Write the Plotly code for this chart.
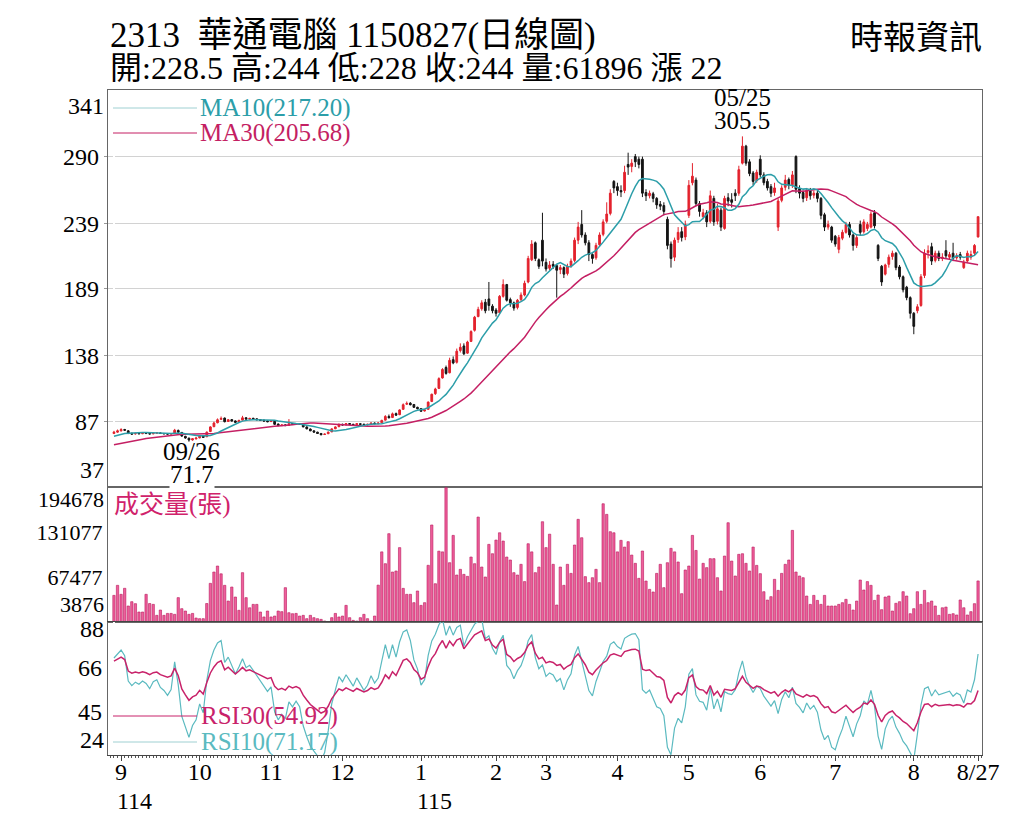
import pandas as pd
import plotly.graph_objects as go
from plotly.subplots import make_subplots

# closes before the first visible day, only used to warm up the MA / RSI lines
earlier_closes = [62, 61, 63, 62, 64, 63, 62, 65, 64, 66, 65, 67, 66, 68, 67,
                  70, 69, 72, 71, 73, 72, 75, 74, 76, 75, 77, 76, 78, 77]

opens = [
    78, 79, 80, 81, 80, 78.2, 77.6, 78.2, 77.8, 78.3,
    78, 77.7, 78.2, 78.4, 78, 77.8, 77.5, 78, 80.3, 78.8,
    75.8, 74.4, 73, 73.8, 74.6, 76, 75.5, 79.5, 83.2, 86.2,
    88.8, 89.8, 87.2, 88.6, 87.6, 86.8, 88.2, 90, 89, 89.6,
    89.2, 88.6, 88.2, 87.6, 87.1, 87.3, 85.2, 84, 84.6, 84.2,
    85.6, 85, 85.6, 84.8, 83, 81.4, 80, 79, 78, 77.2,
    77.8, 79.2, 81.6, 83.2, 85, 84.6, 85.6, 85, 84.6, 85.4,
    85.1, 84.6, 85, 86, 85.4, 86.2, 88.2, 91, 90.2, 93.2,
    92.4, 96.5, 100.4, 101.2, 100.2, 98, 97, 95.2, 96.5, 102.5,
    108.5, 112.5, 120.5, 128.5, 124.5, 134.5, 132.5, 141.5, 145, 139.5,
    148.5, 157, 167.5, 173.5, 178.5, 181, 175.5, 172.5, 170.5, 183,
    192, 180.5, 178, 174.5, 180.5, 184, 194, 211, 224, 211,
    226, 209, 204.5, 207.5, 206.5, 203.5, 205, 200.5, 206.5, 210.5,
    226, 238, 230, 224, 215, 212.5, 222.5, 230.5, 240.5, 246.5,
    271, 267, 264, 264, 284, 282.5, 290, 288, 288, 262.5,
    260, 261.5, 258, 253.5, 252.5, 242, 223, 213, 226.5, 232.5,
    228.5, 245, 270, 272, 254, 244, 247, 240.5, 258, 240.5,
    249, 235, 258.5, 257, 262, 262, 285, 298, 286, 277.5,
    271.5, 288, 276, 271, 267, 262.5, 236, 256.5, 266.5, 272.5,
    268.5, 290, 265.5, 262.5, 258.5, 264, 260.5, 262, 258, 245.5,
    236, 236, 229, 219, 227.5, 232, 238, 230, 222, 238,
    232.5, 235, 236, 247, 222, 206, 200, 207.5, 213.5, 216,
    205.5, 198, 190, 182, 170, 172, 176, 199, 216.5, 221,
    210.5, 216, 212, 218, 213, 216, 212.5, 215, 205, 210,
    213, 216, 228.5,
]

highs = [
    80, 81, 82, 81.5, 80.5, 78.5, 78.6, 78.6, 78.8, 78.6,
    78.4, 78.7, 79, 78.8, 78.3, 78.2, 78.3, 81.5, 81, 79,
    76.2, 74.8, 74.5, 75, 76.5, 76.4, 79.5, 83.5, 87, 89.5,
    91, 90.2, 89, 89, 88, 88.5, 91.5, 90.5, 90, 90,
    89.5, 89, 88.6, 88, 88, 87.6, 85.6, 85, 85, 89,
    86, 86, 86, 85, 83.4, 81.8, 80.4, 79.3, 78.3, 78,
    79.5, 82, 83.5, 85.6, 85.5, 86, 86, 85.4, 86, 85.8,
    85.4, 85.5, 86.4, 86.4, 86.5, 88.5, 92, 92.5, 94, 94,
    96.5, 101, 102.5, 102, 100.5, 98.5, 97.5, 96.5, 102.5, 108.5,
    113, 121, 128, 130, 136, 137, 143, 147, 147, 149,
    157, 168, 175, 180, 181, 194, 177, 174, 184, 196,
    192.5, 182, 179, 181, 186, 195, 214, 226, 225, 212,
    247, 212, 210, 210, 207, 207, 206, 208, 212, 228,
    240, 249, 232, 226, 216, 224, 232, 242, 255, 265,
    272, 270, 268, 283, 293, 288, 292, 290, 290, 265,
    264, 263, 259, 256, 255, 244, 225, 228, 236, 236,
    241, 272, 285, 274, 256, 250, 249, 264, 260, 254,
    251, 260, 262, 262, 265, 283, 305.5, 299, 288, 279,
    280, 291, 278, 273, 269, 270, 258, 268, 276, 274,
    279, 291, 268, 264, 266, 266, 264, 264, 259, 247,
    241, 237, 230, 230, 234, 240, 240, 231, 230, 241,
    242, 240, 248, 249, 223, 207, 208, 215, 218, 217,
    207, 199, 191, 183, 171, 177, 200, 219, 222, 224,
    218, 218, 216, 226, 217, 224, 216, 217, 211, 218,
    218, 223, 244,
]

lows = [
    77.5, 78.5, 79.5, 80, 77.5, 77, 77.2, 77.3, 77.5, 77.5,
    77.2, 77.4, 77.9, 77.7, 77.3, 77.1, 77.2, 77.8, 78.6, 75.5,
    74, 71.7, 72.5, 73.5, 74.3, 74.6, 75.2, 79, 82.8, 85.8,
    88.3, 86.5, 86.8, 87.2, 86.2, 86.4, 88, 88.5, 88.6, 88.6,
    88.2, 87.6, 87.2, 86.6, 86.8, 84.6, 83.6, 83.7, 83.7, 83.9,
    84.6, 84.7, 84.7, 82.8, 81.2, 79.8, 78.7, 77.8, 76.6, 76.8,
    77.5, 79, 81.3, 82.8, 84.1, 84.2, 84.7, 84.2, 84.4, 84.7,
    84.1, 84.2, 84.8, 85.2, 85.2, 86, 88, 89.5, 89.8, 91.5,
    92, 96, 99.8, 99.5, 97.5, 96.4, 94.5, 94.8, 96.2, 102,
    107.5, 112, 120, 123, 124, 131, 131.5, 140, 138, 139,
    148, 156, 167, 172, 170, 172, 170, 167.5, 170, 182,
    179, 175, 172, 173, 179, 183, 193, 210, 210, 204,
    206, 202, 203, 204, 182, 200, 197, 199, 205, 209,
    223, 228, 222, 210, 208, 211, 221, 229, 239, 245,
    262, 260, 259, 262, 276, 278, 282, 281, 259, 256,
    258, 255, 250, 249, 245, 219, 205, 210, 224, 225,
    226, 243, 268, 252, 244, 242, 236, 239, 237, 238,
    233, 234, 252, 251, 256, 260, 284, 283, 275, 268,
    270, 274, 268, 264, 259, 260, 233, 255, 264, 265,
    266, 262, 258, 255, 256, 257, 258, 255, 242, 233,
    234, 224, 221, 216, 226, 231, 228, 218, 220, 230,
    231, 233, 235, 235, 210, 191, 199, 205, 211, 203,
    196, 186, 180, 166, 154, 170, 175, 197, 212, 207,
    209, 210, 210, 212, 211, 210, 211, 211, 204, 209,
    211, 214, 228,
]

closes = [
    79, 80, 81, 80.5, 78, 77.5, 78, 77.8, 78.2, 78,
    77.6, 78.3, 78.5, 78, 77.8, 77.5, 77.9, 80.5, 79, 76,
    74.5, 73, 74, 74.5, 76, 75, 79, 83, 86, 88.5,
    89.5, 87, 88.5, 87.5, 86.5, 88, 90, 89, 89.5, 89,
    88.5, 88, 87.5, 87, 87.5, 85, 84, 84.5, 84, 85.5,
    85, 85.5, 85, 83, 81.5, 80, 79, 78, 77, 77.5,
    79, 81.5, 83, 85, 84.5, 85.5, 85, 84.5, 85.5, 85,
    84.5, 85, 86, 85.5, 86, 88, 91, 90, 93, 92,
    96, 100, 101, 100, 98, 97, 95, 96, 102, 108,
    112, 120, 127, 124, 134, 132, 141, 144, 139, 148,
    156, 167, 173, 178, 172, 176, 172, 170, 183, 192,
    180, 178, 174, 180, 184, 193, 212, 223, 212, 206,
    210, 204, 207, 206, 203, 205, 200, 206, 210, 226,
    236, 230, 224, 215, 212, 222, 230, 240, 246, 262,
    266, 264, 263, 278, 282, 285, 286, 284, 262, 260,
    262, 258, 253, 252, 248, 222, 212, 226, 232, 228,
    238, 268, 275, 254, 248, 247, 240, 260, 240, 250,
    236, 258, 256, 255, 260, 280, 298, 285, 277, 271,
    278, 276, 270, 266, 262, 266, 256, 266, 272, 268,
    276, 265, 262, 258, 264, 260, 262, 258, 245, 236,
    238, 226, 223, 228, 232, 238, 230, 222, 228, 232,
    240, 238, 246, 237, 212, 194, 207, 213, 216, 205,
    198, 188, 182, 170, 160, 175, 198, 216, 218, 210,
    216, 212, 213, 214, 215, 212, 214, 213, 209, 216,
    215, 222, 244,
]

volumes = [
    41500, 55700, 43000, 51500, 26500, 32600, 29800, 18000, 18000, 43000,
    30000, 28800, 13300, 20800, 13300, 16000, 16000, 14700, 38300, 22700,
    19400, 14700, 16000, 9500, 8600, 8600, 30000, 58500, 74500, 83000,
    72000, 55700, 33500, 53300, 39200, 20400, 73600, 38300, 24000, 28800,
    28800, 18000, 11000, 19400, 11000, 12300, 19400, 18500, 52400, 17000,
    15600, 16000, 12300, 13300, 8600, 13300, 10000, 8600, 7600, 5300,
    4300, 10000, 16000, 11000, 12300, 27400, 10000, 6200, 5300, 10000,
    14700, 8600, 5300, 12300, 56000, 103000, 86300, 128700, 74500, 76000,
    109000, 51400, 43000, 43000, 31200, 47700, 27400, 31200, 84000, 141000,
    58000, 104000, 103000, 193700, 87700, 126300, 70300, 78300, 71200, 68400,
    95700, 86300, 152200, 81600, 67500, 113600, 100400, 119700, 130000, 118300,
    95700, 91500, 73600, 70300, 85400, 61000, 114500, 103000, 73600, 81600,
    145600, 109000, 128000, 85400, 27900, 81600, 55700, 85400, 72600, 112700,
    149000, 123000, 68000, 59500, 66500, 78300, 59500, 171000, 156000, 131500,
    130000, 103000, 119300, 109800, 117400, 98500, 86800, 65600, 104200, 61800,
    50000, 46300, 72600, 85400, 52400, 87700, 108000, 103000, 88700, 43900,
    77400, 83000, 126300, 105000, 64600, 86800, 80700, 93400, 93400, 66500,
    47700, 97100, 144200, 90000, 68900, 99500, 100400, 86800, 76000, 109800,
    83900, 72200, 46700, 34900, 39700, 64200, 48600, 72600, 85400, 91500,
    133400, 74500, 68900, 66500, 40600, 28800, 41500, 34400, 28800, 41500,
    26500, 26500, 26500, 28800, 31200, 35900, 28800, 20800, 33500, 63200,
    49100, 61000, 55700, 34400, 42000, 21300, 39200, 40600, 19400, 30300,
    32600, 46700, 40600, 15600, 22700, 46700, 28800, 48600, 31200, 33500,
    26500, 13300, 24000, 25000, 14700, 15600, 13800, 35000, 24000, 13800,
    18500, 29800, 61896,
]

# trading days per month: end of Aug, Sep ... Jul, Aug (to 8/27)
month_days = [2, 22, 20, 20, 22, 21, 14, 20, 20, 20, 21, 22, 19]
month_labels = ["9", "10", "11", "12", "1", "2", "3", "4", "5", "6", "7", "8", "8/27"]
year_labels = ["114", "115"]

price_ticks = [37, 87, 138, 189, 239, 290, 341]
volume_ticks = [3876, 67477, 131077, 194678]
rsi_ticks = [24, 45, 66, 88]

FONT = "Liberation Serif, Noto Sans CJK TC, serif"
UP = "#e3222d"
DOWN = "#141414"
MA10_COLOR = "#2c9ea9"
MA30_COLOR = "#c41f63"
RSI10_COLOR = "#5bbac0"
RSI30_COLOR = "#c8226a"
VOL_COLOR = "#ef5f9c"
VOL_EDGE = "#b8185b"
AXIS = "#666666"

# the page body keeps an 8px margin, so the figure is drawn 8px smaller
W, H = 1016, 827


def rsi(series, n):
    """ wilder style rsi, normalised weights so the warm-up has no seed bias """
    diff = series.diff()
    gain = diff.clip(lower=0).ewm(alpha=1 / n, adjust=True).mean()
    loss = (-diff.clip(upper=0)).ewm(alpha=1 / n, adjust=True).mean()
    return 100 * gain / (gain + loss)


def px_x(p):
    """ screen column -> paper x """
    return (p - 108) / 874


def px_y(p):
    """ screen row -> paper y """
    return (755 - p) / 665


def main():
    n = len(closes)
    x = list(range(n))
    full = pd.Series(earlier_closes + closes, dtype=float)
    skip = len(earlier_closes)
    ma10 = full.rolling(10).mean().iloc[skip:].tolist()
    ma30 = full.rolling(30).mean().iloc[skip:].tolist()
    rsi10 = rsi(full, 10).iloc[skip:].tolist()
    rsi30 = rsi(full, 30).iloc[skip:].tolist()

    starts = []
    k = 0
    for d in month_days:
        starts.append(k)
        k += d
    tick_pos = starts[1:] + [n - 1]

    fig = make_subplots(rows=3, cols=1, shared_xaxes=True, vertical_spacing=0)

    fig.add_trace(go.Candlestick(
        x=x, open=opens, high=highs, low=lows, close=closes,
        increasing=dict(line=dict(color=UP, width=1), fillcolor=UP),
        decreasing=dict(line=dict(color=DOWN, width=1), fillcolor=DOWN),
        whiskerwidth=0, hoverinfo="skip"), row=1, col=1)
    fig.add_trace(go.Scatter(x=x, y=ma30, mode="lines",
                             line=dict(color=MA30_COLOR, width=1.5)), row=1, col=1)
    fig.add_trace(go.Scatter(x=x, y=ma10, mode="lines",
                             line=dict(color=MA10_COLOR, width=1.5)), row=1, col=1)

    fig.add_trace(go.Bar(x=x, y=volumes, marker=dict(color=VOL_COLOR,
                         line=dict(color=VOL_EDGE, width=0.6))), row=2, col=1)

    fig.add_trace(go.Scatter(x=x, y=rsi10, mode="lines",
                             line=dict(color=RSI10_COLOR, width=1.2)), row=3, col=1)
    fig.add_trace(go.Scatter(x=x, y=rsi30, mode="lines",
                             line=dict(color=RSI30_COLOR, width=1.5)), row=3, col=1)

    xr = [-1.67, n - 1 + 1.1]
    for r in (1, 2):
        fig.update_xaxes(range=xr, showticklabels=False, ticks="", showgrid=False,
                         showline=True, mirror=True, linecolor=AXIS, linewidth=1.2,
                         rangeslider_visible=False, row=r, col=1)
    fig.update_xaxes(range=xr, tickmode="array", tickvals=tick_pos, ticktext=month_labels,
                     ticks="outside", ticklen=5, tickcolor="#444", showgrid=False,
                     showline=True, mirror=True, linecolor="#444", linewidth=1.2,
                     ticklabelstandoff=-10, automargin=False,
                     tickfont=dict(size=24, color="black", family=FONT),
                     minor=dict(tickmode="linear", tick0=0, dtick=1, ticks="outside",
                                ticklen=2, tickcolor="#555", showgrid=False),
                     rangeslider_visible=False, row=3, col=1)

    # edge values are drawn as annotations so they sit inside the frame
    fig.update_yaxes(domain=[px_y(487), 1], range=[price_ticks[0], price_ticks[-1]],
                     tickvals=price_ticks[1:-1], showgrid=True, gridcolor="#d2d2d2",
                     ticks="outside", ticklen=3, tickcolor="#999", automargin=False,
                     showline=True, mirror=True, linecolor=AXIS, linewidth=1.2,
                     zeroline=False, tickfont=dict(size=24, family=FONT, color="black"),
                     row=1, col=1)
    fig.update_yaxes(domain=[px_y(622), px_y(487)], range=[volume_ticks[0], volume_ticks[-1]],
                     tickvals=volume_ticks[1:-1], ticktext=[str(v) for v in volume_ticks[1:-1]],
                     showgrid=False, ticks="", automargin=False,
                     showline=True, mirror=True, linecolor=AXIS, linewidth=1.2,
                     zeroline=False, tickfont=dict(size=22, family=FONT, color="black"),
                     row=2, col=1)
    fig.update_yaxes(domain=[0, px_y(622)], range=[rsi_ticks[0], rsi_ticks[-1]],
                     tickvals=rsi_ticks[1:-1], showgrid=False, ticks="", automargin=False,
                     showline=True, mirror=True, linecolor=AXIS, linewidth=1.2,
                     zeroline=False, tickfont=dict(size=24, family=FONT, color="black"),
                     row=3, col=1)

    ann = []
    edges = [("y", price_ticks[-1], "top", -1, 24), ("y", price_ticks[0], "bottom", 2, 24),
             ("y2", volume_ticks[-1], "top", 2, 22), ("y2", volume_ticks[0], "bottom", 3, 22),
             ("y3", rsi_ticks[-1], "top", 8, 24), ("y3", rsi_ticks[0], "bottom", 0, 24)]
    for ref, val, anchor, shift, size in edges:
        ann.append(dict(xref="paper", x=0, xanchor="right", xshift=-2, yref=ref, y=val,
                        yanchor=anchor, yshift=shift, text=str(val), showarrow=False,
                        font=dict(size=size, family=FONT, color="black")))

    # title block
    ann.append(dict(xref="paper", yref="paper", x=0, y=px_y(35), xanchor="left", yanchor="middle",
                    text="2313  華通電腦 1150827(日線圖)", showarrow=False,
                    font=dict(size=35, family=FONT, color="black")))
    ann.append(dict(xref="paper", yref="paper", x=0, y=px_y(68), xanchor="left", yanchor="middle",
                    text="開:228.5 高:244 低:228 收:244 量:61896 漲 22", showarrow=False,
                    font=dict(size=32, family=FONT, color="black")))
    ann.append(dict(xref="paper", yref="paper", x=px_x(984), y=px_y(38), xanchor="right",
                    yanchor="middle", text="時報資訊", showarrow=False,
                    font=dict(size=33, family=FONT, color="black")))

    # high / low markers
    hi = closes.index(298)
    lo = lows.index(min(lows))
    ann.append(dict(x=hi, y=max(highs), xref="x", yref="y", yanchor="bottom", yshift=0,
                    text="305.5", showarrow=False, font=dict(size=25, family=FONT, color="black")))
    ann.append(dict(x=hi, y=max(highs), xref="x", yref="y", yanchor="bottom", yshift=23,
                    text="05/25", showarrow=False, font=dict(size=25, family=FONT, color="black")))
    ann.append(dict(x=lo, y=min(lows), xref="x", yref="y", yanchor="top", yshift=6, xshift=3,
                    text="09/26", showarrow=False, font=dict(size=25, family=FONT, color="black")))
    ann.append(dict(x=lo, y=min(lows), xref="x", yref="y", yanchor="top", yshift=-18, xshift=3,
                    text="71.7", showarrow=False, bgcolor="white", borderpad=0,
                    font=dict(size=25, family=FONT, color="black")))

    # legends drawn like the source chart
    legend_rows = [(108, "MA10(217.20)", MA10_COLOR, "#9fd0d2", 198),
                   (133, "MA30(205.68)", MA30_COLOR, MA30_COLOR, 198),
                   (716, "RSI30(54.92)", RSI30_COLOR, RSI30_COLOR, 199),
                   (742, "RSI10(71.17)", RSI10_COLOR, "#9fd0d2", 199)]
    shapes = []
    for py, label, tcolor, lcolor, tx in legend_rows:
        shapes.append(dict(type="line", xref="paper", yref="paper", x0=px_x(113), x1=px_x(197),
                           y0=px_y(py), y1=px_y(py), line=dict(color=lcolor, width=1)))
        ann.append(dict(xref="paper", yref="paper", x=px_x(tx), y=px_y(py), xanchor="left",
                        yanchor="middle", text=label, showarrow=False,
                        font=dict(size=25, family=FONT, color=tcolor)))
    ann.append(dict(xref="paper", yref="paper", x=px_x(112), y=px_y(505), xanchor="left",
                    yanchor="middle", text="成交量(張)", showarrow=False,
                    font=dict(size=25, family=FONT, color="#d0226b")))

    # roc year under the first month of each year
    for label, pos in zip(year_labels, [tick_pos[0], tick_pos[4]]):
        ann.append(dict(xref="x3", yref="paper", x=pos, y=px_y(801), xanchor="left",
                        xshift=-6, yanchor="middle", text=label, showarrow=False,
                        font=dict(size=24, family=FONT, color="black")))

    fig.update_layout(width=W, height=H, margin=dict(l=100, r=42, t=82, b=80),
                      paper_bgcolor="white", plot_bgcolor="white", showlegend=False,
                      bargap=0.35, hovermode=False, annotations=ann, shapes=shapes,
                      font=dict(family=FONT, color="black"))
    fig.write_html("out.html")


if __name__ == "__main__":
    main()
